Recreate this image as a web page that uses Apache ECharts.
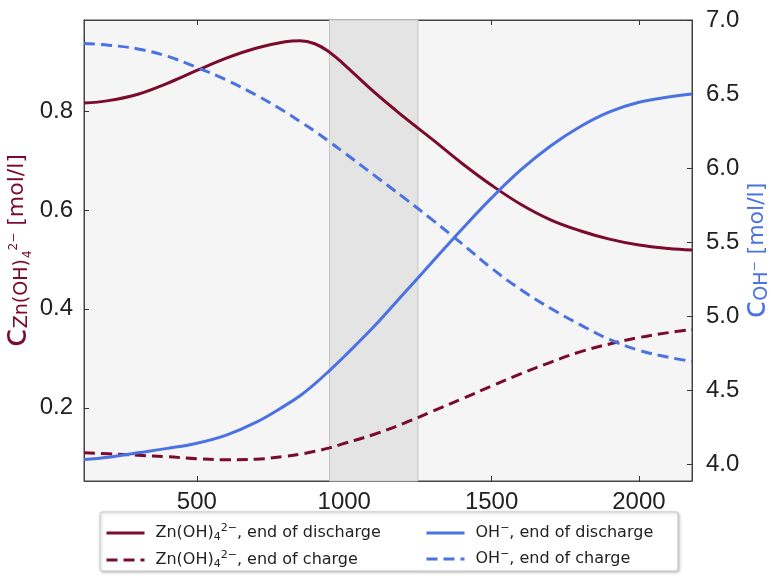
<!DOCTYPE html>
<html>
<head>
<meta charset="utf-8">
<script src="https://cdn.jsdelivr.net/npm/echarts@6/dist/echarts.min.js"></script>
<style>
  html, body { margin: 0; padding: 0; background: #fff; }
  #chart { width: 771px; height: 576px; }
</style>
</head>
<body>
<div id="chart"></div>
<script>
// position along the cell (x values)
var xs = [117, 200, 300, 400, 500, 600, 700, 800, 850, 900, 950, 1000, 1100, 1200, 1300, 1400, 1500, 1600, 1700, 1800, 1900, 2000, 2100, 2180];

// Zn(OH)4 2- concentration [mol/l], left axis
var znDischarge = [0.816, 0.821, 0.834, 0.856, 0.882, 0.907, 0.927, 0.940, 0.942, 0.936, 0.919, 0.894, 0.839, 0.789, 0.742, 0.694, 0.650, 0.611, 0.580, 0.558, 0.541, 0.529, 0.522, 0.519];
var znCharge = [0.109, 0.107, 0.104, 0.101, 0.097, 0.095, 0.096, 0.102, 0.106, 0.112, 0.119, 0.128, 0.146, 0.168, 0.193, 0.218, 0.244, 0.269, 0.292, 0.313, 0.329, 0.342, 0.352, 0.358];

// OH- concentration [mol/l], right axis
var ohDischarge = [4.035, 4.05, 4.08, 4.11, 4.145, 4.20, 4.285, 4.40, 4.465, 4.545, 4.635, 4.73, 4.93, 5.15, 5.37, 5.59, 5.80, 5.99, 6.15, 6.28, 6.38, 6.445, 6.48, 6.50];
var ohCharge = [6.842, 6.830, 6.805, 6.755, 6.680, 6.595, 6.495, 6.380, 6.315, 6.250, 6.178, 6.105, 5.955, 5.805, 5.65, 5.49, 5.325, 5.18, 5.055, 4.945, 4.845, 4.772, 4.725, 4.697];

var xTicks = [500, 1000, 1500, 2000];
var leftTicks = [0.2, 0.4, 0.6, 0.8];
var rightTicks = [4.0, 4.5, 5.0, 5.5, 6.0, 6.5, 7.0];
var shadeRange = [950, 1250];

var RED = '#7b0b2d';
var BLUE = '#4b72e2';

function pairs(ys) {
  return xs.map(function (x, i) { return [x, ys[i]]; });
}

var chart = echarts.init(document.getElementById('chart'));

var tickStyle = { show: true, inside: true, length: 5, lineStyle: { color: '#333', width: 1 } };
var labelFont = { fontFamily: 'Liberation Sans', fontSize: 24, color: '#222' };

var legendRich = {
  t: { fontFamily: 'DejaVu Sans', fontSize: 16, color: '#222', lineHeight: 20 },
  sub: { fontFamily: 'DejaVu Sans', fontSize: 11, color: '#222', lineHeight: 12, verticalAlign: 'bottom', padding: [8, 0, 0, 0] },
  sup: { fontFamily: 'DejaVu Sans', fontSize: 11, color: '#222', lineHeight: 12, verticalAlign: 'top', padding: [0, 0, 8, 0] }
};

var legendNames = {
  'zn-dis': '{t|Zn(OH)}{sub|4}{sup|2\u2212}{t|, end of discharge}',
  'zn-ch': '{t|Zn(OH)}{sub|4}{sup|2\u2212}{t|, end of charge}',
  'oh-dis': '{t|OH}{sup|\u2212}{t|, end of discharge}',
  'oh-ch': '{t|OH}{sup|\u2212}{t|, end of charge}'
};

function makeLegend(left, names) {
  return {
    orient: 'vertical', left: left, top: 518, height: 80,
    itemWidth: 38, itemHeight: 12, itemGap: 7, z: 5,
    itemStyle: { opacity: 0 },
    lineStyle: { width: 3 },
    data: names,
    formatter: function (n) { return legendNames[n]; },
    textStyle: { rich: legendRich, padding: [0, 0, 0, 6] }
  };
}

var option = {
  animation: false,
  backgroundColor: '#fff',
  grid: {
    left: 84, right: 79, top: 20, bottom: 95,
    containLabel: false, outerBoundsMode: 'none',
    show: true, backgroundColor: '#f5f5f5', borderColor: '#444', borderWidth: 1
  },
  graphic: [{
    type: 'rect', z: 1,
    shape: { x: 100, y: 512, width: 578, height: 59, r: 2 },
    style: { fill: '#fff', stroke: '#c8c8c8', lineWidth: 1, shadowBlur: 3, shadowColor: 'rgba(0,0,0,0.25)', shadowOffsetX: 1, shadowOffsetY: 1 }
  }],
  legend: [
    makeLegend(100, ['zn-dis', 'zn-ch']),
    makeLegend(420, ['oh-dis', 'oh-ch'])
  ],
  xAxis: [{
    type: 'value', min: 117, max: 2180, position: 'bottom',
    axisLine: { show: true, lineStyle: { color: '#444' } },
    axisTick: Object.assign({ customValues: xTicks }, tickStyle),
    axisLabel: Object.assign({ customValues: xTicks, margin: 9, formatter: function (v) { return String(v); } }, labelFont),
    splitLine: { show: false }
  }, {
    type: 'value', min: 117, max: 2180, position: 'top',
    axisLine: { show: true, lineStyle: { color: '#444' } },
    axisTick: Object.assign({ customValues: xTicks }, tickStyle),
    axisLabel: { show: false },
    splitLine: { show: false }
  }],
  yAxis: [{
    type: 'value', min: 0.052, max: 0.984, position: 'left',
    axisLine: { show: true, lineStyle: { color: '#444' } },
    axisTick: Object.assign({ customValues: leftTicks }, tickStyle),
    axisLabel: Object.assign({ customValues: leftTicks, margin: 11, formatter: function (v) { return v.toFixed(1); } }, labelFont),
    splitLine: { show: false },
    name: '{c|c}{s|Zn(OH)}{ss|4}{sp|2\u2212}{u| [mol/l]}',
    nameLocation: 'middle', nameGap: 47, nameMoveOverlap: false,
    nameTextStyle: {
      rich: {
        c: { fontFamily: 'DejaVu Sans', fontSize: 34, color: RED, lineHeight: 40, verticalAlign: 'middle' },
        s: { fontFamily: 'DejaVu Sans', fontSize: 19, color: RED, lineHeight: 40, verticalAlign: 'middle', padding: [10, 0, 0, 0] },
        ss: { fontFamily: 'DejaVu Sans', fontSize: 12, color: RED, lineHeight: 40, verticalAlign: 'middle', padding: [22, 0, 0, 1] },
        sp: { fontFamily: 'DejaVu Sans', fontSize: 12, color: RED, lineHeight: 40, verticalAlign: 'middle', padding: [0, 0, 6, 0] },
        u: { fontFamily: 'DejaVu Sans', fontSize: 22, color: RED, lineHeight: 40, verticalAlign: 'middle' }
      }
    }
  }, {
    type: 'value', min: 3.89, max: 7.0, position: 'right',
    axisLine: { show: true, lineStyle: { color: '#444' } },
    axisTick: Object.assign({ customValues: rightTicks }, tickStyle),
    axisLabel: Object.assign({ customValues: rightTicks, margin: 14, formatter: function (v) { return v.toFixed(1); } }, labelFont),
    splitLine: { show: false },
    name: '{c|c}{s|OH}{sp|\u2212}{u| [mol/l]}',
    nameLocation: 'middle', nameGap: 45, nameMoveOverlap: false,
    nameTextStyle: {
      rich: {
        c: { fontFamily: 'DejaVu Sans', fontSize: 32, color: BLUE, lineHeight: 40, verticalAlign: 'middle' },
        s: { fontFamily: 'DejaVu Sans', fontSize: 19, color: BLUE, lineHeight: 40, verticalAlign: 'middle', padding: [10, 0, 0, 0] },
        sp: { fontFamily: 'DejaVu Sans', fontSize: 12, color: BLUE, lineHeight: 40, verticalAlign: 'middle', padding: [0, 0, 4, 0] },
        u: { fontFamily: 'DejaVu Sans', fontSize: 22, color: BLUE, lineHeight: 40, verticalAlign: 'middle' }
      }
    }
  }],
  series: [{
    type: 'line', name: 'shade', data: [], z: 1, silent: true,
    markArea: {
      silent: true,
      itemStyle: { color: '#e4e4e4', borderColor: '#c6c6c6', borderWidth: 1 },
      data: [[{ xAxis: shadeRange[0] }, { xAxis: shadeRange[1] }]]
    }
  }, {
    type: 'line', name: 'zn-dis', yAxisIndex: 0, data: pairs(znDischarge), smooth: 0.4,
    symbol: 'none', color: RED, lineStyle: { color: RED, width: 3 }
  }, {
    type: 'line', name: 'zn-ch', yAxisIndex: 0, data: pairs(znCharge), smooth: 0.4,
    symbol: 'none', color: RED, lineStyle: { color: RED, width: 3, type: [11, 6] }
  }, {
    type: 'line', name: 'oh-dis', yAxisIndex: 1, data: pairs(ohDischarge), smooth: 0.4,
    symbol: 'none', color: BLUE, lineStyle: { color: BLUE, width: 3 }
  }, {
    type: 'line', name: 'oh-ch', yAxisIndex: 1, data: pairs(ohCharge), smooth: 0.4,
    symbol: 'none', color: BLUE, lineStyle: { color: BLUE, width: 3, type: [11, 6] }
  }]
};

chart.setOption(option);
</script>
</body>
</html>
